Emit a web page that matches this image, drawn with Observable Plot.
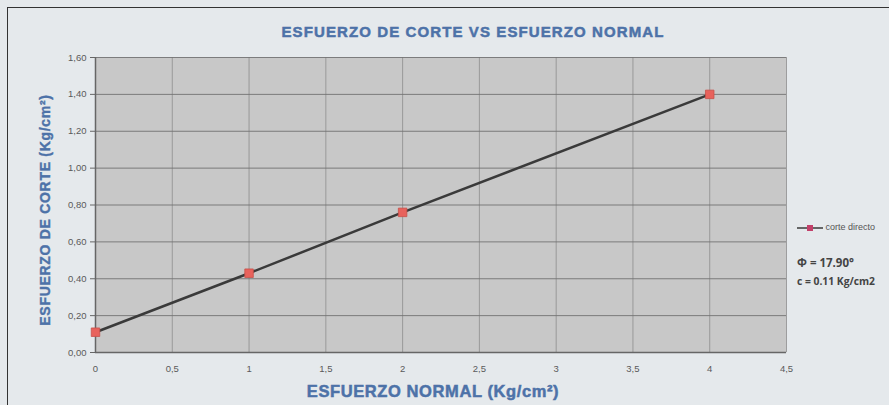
<!DOCTYPE html>
<html>
<head>
<meta charset="utf-8">
<script src="https://cdn.jsdelivr.net/npm/d3@7"></script>
<script src="https://cdn.jsdelivr.net/npm/@observablehq/plot@0.6"></script>
<style>
  html, body { margin: 0; padding: 0; background: #e5e9ec; }
  #wrap { position: relative; width: 889px; height: 405px; overflow: hidden; background: #e5e9ec; }
  #frame { position: absolute; left: 7px; top: 7px; width: 900px; height: 420px; border-left: 1.5px solid #333; border-top: 1.5px solid #333; }
  .t { position: absolute; font-family: "Liberation Sans", Arial, sans-serif; white-space: nowrap; }
  #title { left: 0; width: 946px; top: 23px; text-align: center; color: #4d72a8; font-weight: bold; font-size: 15px; letter-spacing: 1.1px; -webkit-text-stroke: 0.5px #4d72a8; }
  #xlab { left: 0; width: 866px; top: 382px; text-align: center; color: #4d72a8; font-weight: bold; font-size: 16.5px; letter-spacing: 0.6px; -webkit-text-stroke: 0.5px #4d72a8; }
  #ylab { left: 45px; top: 210px; transform: translate(-50%, -50%) rotate(-90deg); color: #4d72a8; font-weight: bold; font-size: 14px; letter-spacing: 0.7px; -webkit-text-stroke: 0.4px #4d72a8; }
  #leg { left: 797px; top: 222px; font-size: 9px; color: #555; }
  #phi { left: 797px; top: 255px; font-size: 11.5px; font-weight: bold; color: #444; font-family: "Open Sans", "Liberation Sans", sans-serif; }
  #c { left: 797px; top: 274px; font-size: 10.3px; font-weight: bold; color: #444; font-family: "Open Sans", "Liberation Sans", sans-serif; }
  svg { position: absolute; left: 0; top: 0; }
</style>
</head>
<body>
<div id="wrap">
  <div id="frame"></div>
</div>
<script>
const normal = [0, 1, 2, 4];
const corte = [0.11, 0.43, 0.76, 1.40];
const xTicks = [0, 0.5, 1, 1.5, 2, 2.5, 3, 3.5, 4, 4.5];
const yTicks = [0, 0.2, 0.4, 0.6, 0.8, 1.0, 1.2, 1.4, 1.6];
const seriesName = "corte directo";
const titleText = "ESFUERZO DE CORTE VS ESFUERZO NORMAL";
const xLabel = "ESFUERZO NORMAL (Kg/cm²)";
const yLabel = "ESFUERZO DE CORTE (Kg/cm²)";
const phiText = "Φ = 17.90°";
const cText = "c = 0.11 Kg/cm2";

const data = normal.map((x, i) => ({x, y: corte[i]}));

const chart = Plot.plot({
  width: 889,
  height: 405,
  marginLeft: 95,
  marginRight: 103,
  marginTop: 57,
  marginBottom: 53,
  style: { background: "transparent", fontFamily: "Liberation Sans, Arial, sans-serif", fontSize: "9.5px", color: "#555" },
  x: { domain: [0, 4.5], ticks: xTicks, tickFormat: d => String(d).replace(".", ","), tickSize: 0, tickPadding: 12, label: null },
  y: { domain: [0, 1.6], ticks: yTicks, tickFormat: d => d.toFixed(2).replace(".", ","), tickSize: 5, tickPadding: 4, label: null },
  marks: [
    Plot.frame({ fill: "#c8c8c8" }),
    Plot.gridX(xTicks, { stroke: "#8a8a8a", strokeOpacity: 0.75, strokeWidth: 1 }),
    Plot.gridY(yTicks, { stroke: "#727272", strokeOpacity: 0.9, strokeWidth: 1 }),
    Plot.ruleX([0], { stroke: "#666", strokeWidth: 1.5 }),
    Plot.ruleY([0], { stroke: "#666", strokeWidth: 1.5 }),
    Plot.axisX({ ticks: xTicks, tickFormat: d => String(d).replace(".", ","), tickSize: 0, tickPadding: 13, fill: "#5a5a5a", label: null }),
    Plot.axisY({ ticks: yTicks, tickFormat: d => d.toFixed(2).replace(".", ","), tickSize: 5, tickPadding: 4, stroke: "#666", fill: "#5a5a5a", label: null }),
    Plot.line(data, { x: "x", y: "y", stroke: "#3a3a3a", strokeWidth: 2.5 }),
    Plot.dot(data, { x: "x", y: "y", symbol: "square", r: 4.8, fill: "#e8625c", stroke: "#c8504a", strokeWidth: 0.8 })
  ]
});
const wrap = document.getElementById("wrap");
wrap.appendChild(chart);

function addText(id, txt) {
  const d = document.createElement("div");
  d.className = "t"; d.id = id; d.textContent = txt;
  wrap.appendChild(d);
  return d;
}
addText("title", titleText);
addText("xlab", xLabel);
addText("ylab", yLabel);
addText("phi", phiText);
addText("c", cText);

// legend
const leg = document.createElement("div");
leg.className = "t"; leg.id = "leg";
const ls = d3.create("svg").attr("width", 26).attr("height", 10).style("position", "static").style("vertical-align", "middle");
ls.append("line").attr("x1", 0).attr("x2", 26).attr("y1", 5).attr("y2", 5).attr("stroke", "#3a3a3a").attr("stroke-width", 1.5);
ls.append("rect").attr("x", 10).attr("y", 2).attr("width", 6).attr("height", 6).attr("fill", "#c2406a");
leg.appendChild(ls.node());
const lt = document.createElement("span");
lt.textContent = " " + seriesName;
leg.appendChild(lt);
wrap.appendChild(leg);
</script>
</body>
</html>
